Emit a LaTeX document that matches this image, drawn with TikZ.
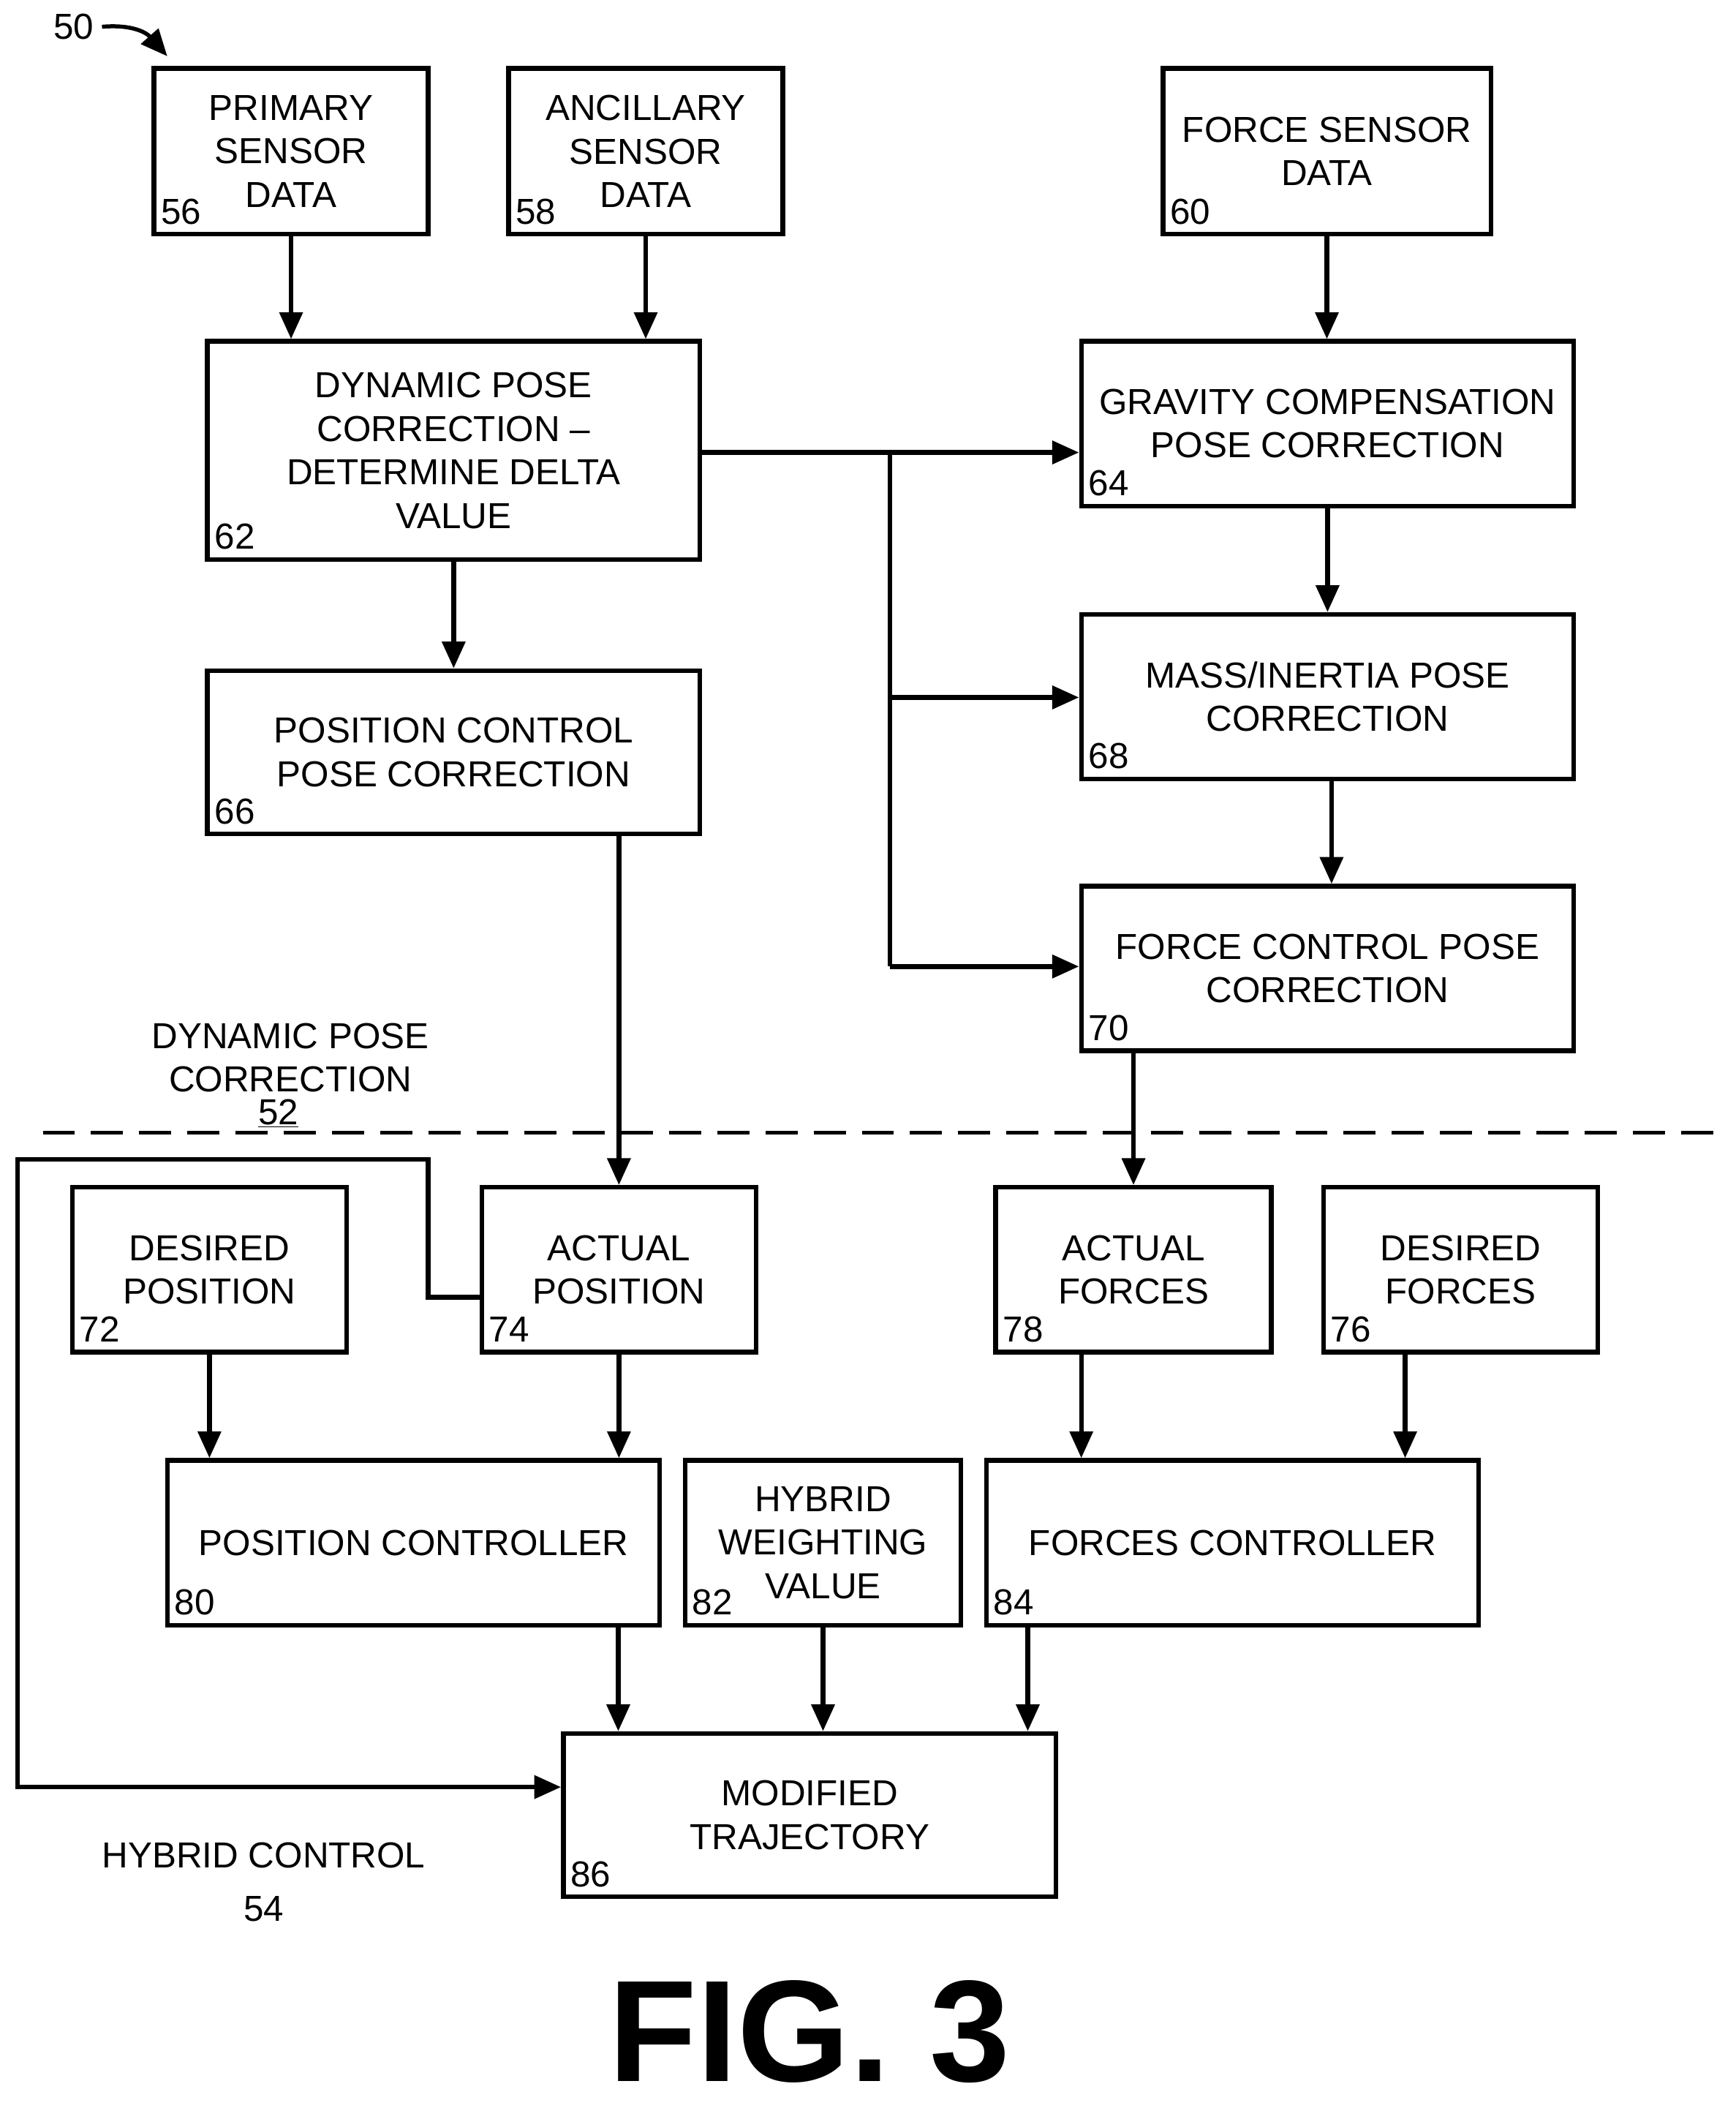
\documentclass[tikz,border=0pt]{standalone}
\usepackage{fontspec}
\setmainfont{Liberation Sans}
\usetikzlibrary{arrows.meta}
\begin{document}
\begin{tikzpicture}[x=1pt,y=-1pt,
  box/.style={draw,line width=3.5pt,align=center,inner sep=0pt,font=\fontsize{27}{32.5}\selectfont},
  num/.style={anchor=south west,inner sep=0pt,font=\fontsize{27}{32}\selectfont},
  txt/.style={align=center,inner sep=0pt,font=\fontsize{27}{32.5}\selectfont},
  ar/.style={line width=3.5pt,-{Triangle[length=20pt,width=17pt]}},
  ln/.style={line width=3.5pt}]
\useasboundingbox (0,0) rectangle (1297,1577);
\newcommand{\bx}[7]{\node[box,minimum width=#4,minimum height=#5] (n#1) at (#2,#3) {#6};
 \node[num] (l#1) at ([xshift=7pt,yshift=9pt]n#1.south west) {#7};}
\bx{56}{217.5}{113}{205pt}{124pt}{PRIMARY\\SENSOR\\DATA}{56}
\bx{58}{482.5}{113}{205pt}{124pt}{ANCILLARY\\SENSOR\\DATA}{58}
\bx{60}{991.5}{113}{245pt}{124pt}{FORCE SENSOR\\DATA}{60}
\bx{62}{339}{336.5}{368pt}{163pt}{DYNAMIC POSE\\CORRECTION –\\DETERMINE DELTA\\VALUE}{62}
\bx{64}{992}{316.5}{368pt}{123pt}{GRAVITY COMPENSATION\\POSE CORRECTION}{64}
\bx{66}{339}{562}{368pt}{122pt}{POSITION CONTROL\\POSE CORRECTION}{66}
\bx{68}{992}{520.5}{368pt}{123pt}{MASS/INERTIA POSE\\CORRECTION}{68}
\bx{70}{992}{723.5}{368pt}{123pt}{FORCE CONTROL POSE\\CORRECTION}{70}
\bx{72}{156.5}{948.5}{205pt}{123pt}{DESIRED\\POSITION}{72}
\bx{74}{462.5}{948.5}{205pt}{123pt}{ACTUAL\\POSITION}{74}
\bx{78}{847}{948.5}{206pt}{123pt}{ACTUAL\\FORCES}{78}
\bx{76}{1091.5}{948.5}{205pt}{123pt}{DESIRED\\FORCES}{76}
\bx{80}{309}{1152.5}{368pt}{123pt}{POSITION CONTROLLER}{80}
\bx{82}{615}{1152.5}{206pt}{123pt}{HYBRID\\WEIGHTING\\VALUE}{82}
\bx{84}{921}{1152.5}{368pt}{123pt}{FORCES CONTROLLER}{84}
\bx{86}{605}{1356}{368pt}{122pt}{MODIFIED\\TRAJECTORY}{86}

\draw[ar] (n56) -- (n56 |- n62.north);
\draw[ar] (n58) -- (n58 |- n62.north);
\draw[ar] (n60) -- (n60 |- n64.north);
\draw[ar] (n62) -- (n62 |- n66.north);
\draw[ar] (n64) -- (n64 |- n68.north);
\coordinate (c68) at (995,582);
\draw[ar] (n68.south -| c68) -- (n70.north -| c68);
\coordinate (b1) at (665,338);
\coordinate (b2) at (665,521);
\coordinate (b3) at (665,722);
\draw[ar] (n62.east |- b1) -- (n64.west |- b1);
\draw[ln] (b1) -- (b3);
\draw[ar] (b2) -- (n68.west |- b2);
\draw[ar] (b3) -- (n70.west |- b3);
\draw[ar] (n74.north |- n66.south) -- (n74.north);
\draw[ar] (n78.north |- n70.south) -- (n78.north);
\draw[ar] (n72) -- (n72 |- n80.north);
\draw[ar] (n74) -- (n74 |- n80.north);
\coordinate (c78) at (808,1010);
\coordinate (c76) at (1050,1010);
\draw[ar] (n78.south -| c78) -- (n84.north -| c78);
\draw[ar] (n76.south -| c76) -- (n84.north -| c76);
\coordinate (c80) at (462,1214);
\coordinate (c84) at (768,1214);
\draw[ar] (n80.south -| c80) -- (n86.north -| c80);
\draw[ar] (n82) -- (n82 |- n86.north);
\draw[ar] (n84.south -| c84) -- (n86.north -| c84);
\coordinate (f1) at (320,969);
\coordinate (f2) at (13,866);
\coordinate (f3) at (13,1335);
\draw[ar] (n74.west |- f1) -- (f1) -- (f1 |- f2) -- (f2) -- (f3) -- (n86.west |- f3);

\coordinate (d1) at (32,846);
\coordinate (d2) at (1282,846);
\draw[ln,line width=3pt,dash pattern=on 24pt off 12pt] (d1) -- (d2);
\node[txt] (t52) at (217,790) {DYNAMIC POSE\\CORRECTION};
\node[txt] (u52) at (208,832) {\underline{52}};
\node[txt] (t54) at (197,1386) {HYBRID CONTROL};
\node[txt] (u54) at (197,1426) {54};
\node[txt] (t50) at (55,20) {50};
\coordinate (a50) at (125,42);
\draw[ar,line width=3pt] ([xshift=6pt]t50.east) .. controls (100,18) and (110,25) .. (a50);
\node[txt,font=\fontsize{108}{110}\bfseries\selectfont] (fig) at (605,1518) {FIG. 3};
\end{tikzpicture}
\end{document}
